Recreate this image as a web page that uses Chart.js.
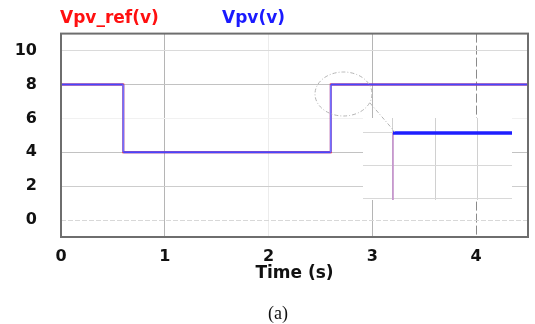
<!DOCTYPE html>
<html>
<head>
<meta charset="utf-8">
<script src="https://cdn.jsdelivr.net/npm/chart.js@4.4.1/dist/chart.umd.min.js"></script>
<style>
    html, body { margin: 0; padding: 0; background: #fff; }
    #wrap { position: relative; width: 535px; height: 324px; overflow: hidden; }
    #main { position: absolute; left: 0; top: 0; }
    #inset { position: absolute; left: 363px; top: 118px; }
    #marks { position: absolute; left: 0; top: 0; }
    .leg { position: absolute; top: 7px; font: bold 17px/20px 'DejaVu Sans', sans-serif; white-space: nowrap; }
    #cap { position: absolute; left: 0; width: 556px; top: 303px; text-align: center; font: 18px/20px 'Liberation Serif', serif; color: #111; }
</style>
</head>
<body>
<div id="wrap">
    <canvas id="main" width="535" height="290" style="width:535px;height:290px"></canvas>
    <canvas id="inset" width="149" height="82" style="width:149px;height:82px"></canvas>
    <svg id="marks" width="535" height="324">
        <ellipse cx="343.5" cy="94" rx="28.5" ry="22" fill="none" stroke="#b4b4b4" stroke-width="1" stroke-dasharray="4,2,1,2"/>
        <line x1="370" y1="103" x2="395" y2="132" stroke="#b4b4b4" stroke-width="1" stroke-dasharray="4,2,1,2"/>
    </svg>
    <span class="leg" style="left:60px;color:#ff1010">Vpv_ref(v)</span>
    <span class="leg" style="left:222px;color:#1a1aff">Vpv(v)</span>
    <div id="cap">(a)</div>
</div>
<script>
// Step response of PV voltage and its reference
const timeS  = [0, 0, 0.6, 0.6, 2.6, 2.6, 4.5];
const vpvRef = [0, 8, 8, 4, 4, 8, 8];
const vpv    = [0, 8, 8, 4, 4, 8, 8];

const xTicks = [0, 1, 2, 3, 4];
const yTicks = [0, 2, 4, 6, 8, 10];

// zoomed view around the 2.6 s step
const insetXTicks = [2.6, 2.62, 2.64];
const insetYTicks = [7, 7.5, 8];

const toPoints = arr => timeS.map((t, i) => ({ x: t, y: arr[i] }));
const isVertical = c => c.p0.parsed.x === c.p1.parsed.x;

const tickFont = { family: 'DejaVu Sans', size: 16, weight: 'bold' };

const framePlugin = {
    id: 'frame',
    afterDraw(chart) {
        const { ctx, chartArea: a } = chart;
        ctx.save();
        ctx.strokeStyle = '#6e6e6e';
        ctx.lineWidth = 2;
        ctx.strokeRect(a.left, a.top, a.right - a.left, a.bottom - a.top);
        ctx.restore();
    }
};

const whiteBg = {
    id: 'whiteBg',
    beforeDraw(chart) {
        const ctx = chart.ctx;
        ctx.save();
        ctx.fillStyle = '#fff';
        ctx.fillRect(0, 0, chart.width, chart.height);
        ctx.restore();
    }
};

const yGridColor = { 0: '#d8d8d8', 2: '#cdcdcd', 4: '#c2c2c2', 6: '#f1f1f1', 8: '#c2c2c2', 10: '#dadada' };
const xGridColor = { 0: '#888', 1: '#b5b5b5', 2: '#ececec', 3: '#b5b5b5', 4: '#8a8a8a' };

new Chart(document.getElementById('main'), {
    type: 'line',
    data: {
        datasets: [
            {
                label: 'Vpv_ref(v)',
                data: toPoints(vpvRef),
                borderColor: '#ff2020',
                borderWidth: 2,
                pointRadius: 0,
                fill: false,
                order: 2
            },
            {
                label: 'Vpv(v)',
                data: toPoints(vpv),
                borderColor: '#4646ff',
                borderWidth: 2,
                pointRadius: 0,
                fill: false,
                order: 1,
                segment: {
                    borderColor: c => isVertical(c) ? '#7070ff' : undefined
                }
            }
        ]
    },
    options: {
        responsive: false,
        animation: false,
        layout: { padding: { top: 32, right: 7, left: 0, bottom: 0 } },
        plugins: { legend: { display: false }, tooltip: { enabled: false } },
        scales: {
            x: {
                type: 'linear',
                min: 0,
                max: 4.5,
                afterBuildTicks: s => { s.ticks = xTicks.map(v => ({ value: v })); },
                afterFit: s => { s.height = 53; },
                grid: {
                    drawTicks: false,
                    lineWidth: 1,
                    color: c => (c.tick ? xGridColor[c.tick.value] : '#888')
                },
                border: {
                    display: false,
                    dash: c => (c.tick && c.tick.value === 4 ? [9, 3] : [])
                },
                ticks: { font: tickFont, color: '#111', padding: 10 },
                title: {
                    display: true,
                    text: 'Time (s)',
                    color: '#111',
                    font: { family: 'DejaVu Sans', size: 17, weight: 'bold' },
                    padding: { top: 0, bottom: 6 }
                }
            },
            y: {
                type: 'linear',
                min: -1,
                max: 11,
                afterBuildTicks: s => { s.ticks = yTicks.map(v => ({ value: v })); },
                afterFit: s => { s.width = 61; },
                grid: {
                    drawTicks: false,
                    lineWidth: 1,
                    color: c => (c.tick ? yGridColor[c.tick.value] : '#888')
                },
                border: {
                    display: false,
                    dash: c => (c.tick && c.tick.value === 0 ? [5, 2] : [])
                },
                ticks: { font: tickFont, color: '#111', padding: 24 }
            }
        }
    },
    plugins: [framePlugin]
});

new Chart(document.getElementById('inset'), {
    type: 'line',
    data: {
        datasets: [
            {
                data: toPoints(vpvRef),
                borderColor: '#ffb4b4',
                borderWidth: 1.5,
                pointRadius: 0,
                fill: false,
                order: 2
            },
            {
                data: toPoints(vpv),
                borderColor: '#1e1eff',
                borderWidth: 3.5,
                pointRadius: 0,
                fill: false,
                order: 1,
                segment: {
                    borderColor: c => isVertical(c) ? 'rgba(70,70,255,0.35)' : undefined,
                    borderWidth: c => isVertical(c) ? 1.5 : undefined
                }
            }
        ]
    },
    options: {
        responsive: false,
        animation: false,
        layout: { padding: 0 },
        plugins: { legend: { display: false }, tooltip: { enabled: false } },
        scales: {
            x: {
                type: 'linear',
                min: 2.5859,
                max: 2.656,
                afterBuildTicks: s => { s.ticks = insetXTicks.map(v => ({ value: v })); },
                afterFit: s => { s.height = 0; },
                grid: { drawTicks: false, color: '#d0d0d0' },
                border: { display: false },
                ticks: { display: false }
            },
            y: {
                type: 'linear',
                min: 6.97,
                max: 8.23,
                afterBuildTicks: s => { s.ticks = insetYTicks.map(v => ({ value: v })); },
                afterFit: s => { s.width = 0; },
                grid: { drawTicks: false, color: '#d8d8d8' },
                border: { display: false },
                ticks: { display: false }
            }
        }
    },
    plugins: [whiteBg]
});
</script>
</body>
</html>
